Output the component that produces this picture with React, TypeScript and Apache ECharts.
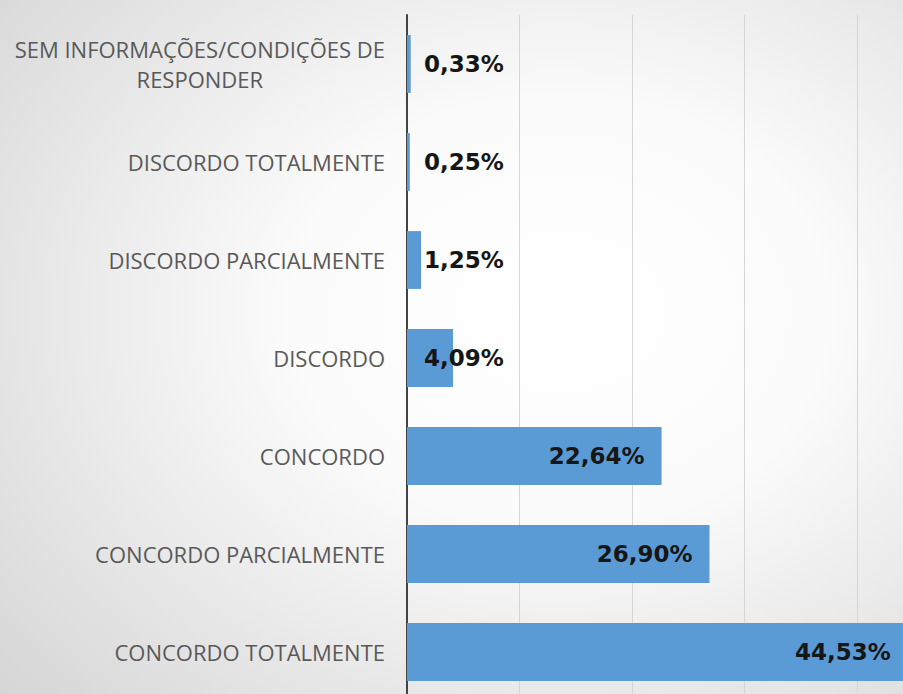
import React, { useEffect, useRef } from "react";
import * as echarts from "echarts";

const categories = [
  "SEM INFORMAÇÕES/CONDIÇÕES DE\nRESPONDER",
  "DISCORDO TOTALMENTE",
  "DISCORDO PARCIALMENTE",
  "DISCORDO",
  "CONCORDO",
  "CONCORDO PARCIALMENTE",
  "CONCORDO TOTALMENTE",
];
const values = [0.33, 0.25, 1.25, 4.09, 22.64, 26.9, 44.53];
const xTicks = [0, 10, 20, 30, 40];

export default function App() {
  const ref = useRef<HTMLDivElement>(null);
  useEffect(() => {
    document.body.style.margin = "0";
    if (!ref.current) return;
    const chart = echarts.init(ref.current, undefined, { renderer: "svg" });
    chart.setOption({
      animation: false,
      backgroundColor: new echarts.graphic.RadialGradient(0.62, 0.45, 0.85, [
        { offset: 0, color: "#ffffff" },
        { offset: 0.35, color: "#fbfbfb" },
        { offset: 1, color: "#d4d4d4" },
      ]),
      grid: {
        left: 407,
        top: 15,
        width: 506,
        height: 686,
        containLabel: false,
        outerBoundsMode: "none",
      },
      xAxis: {
        type: "value",
        min: xTicks[0],
        max: 45,
        interval: xTicks[1] - xTicks[0],
        axisLabel: { show: false },
        axisLine: { show: false },
        axisTick: { show: false },
        splitLine: {
          show: true,
          showMaxLine: false,
          lineStyle: { color: "#d6d6d6", width: 1 },
        },
      },
      yAxis: {
        type: "category",
        inverse: true,
        data: categories,
        axisLine: { show: true, lineStyle: { color: "#444444", width: 2 } },
        axisTick: { show: false },
        axisLabel: {
          margin: 22,
          color: "#595959",
          fontSize: 22,
          fontFamily: "'Open Sans', sans-serif",
          formatter: (v: string) =>
            v
              .split("\n")
              .map((l) => `{c|${l}}`)
              .join("\n"),
          rich: {
            c: {
              align: "center",
              color: "#595959",
              fontSize: 22,
              fontFamily: "'Open Sans', sans-serif",
              lineHeight: 30,
            },
          },
        },
      },
      series: [
        {
          type: "bar",
          clip: false,
          barWidth: "59%",
          itemStyle: { color: "#5b9bd5" },
          data: values.map((v) => ({
            value: v,
            label: { position: v > 10 ? "insideRight" : "insideLeft" },
          })),
          label: {
            show: true,
            distance: 17,
            color: "#161616",
            fontSize: 23,
            fontWeight: "bold",
            fontFamily: "'DejaVu Sans', sans-serif",
            formatter: (p: any) => p.value.toFixed(2).replace(".", ",") + "%",
          },
        },
      ],
    });
    return () => chart.dispose();
  }, []);
  return <div ref={ref} style={{ width: 903, height: 694 }} />;
}
